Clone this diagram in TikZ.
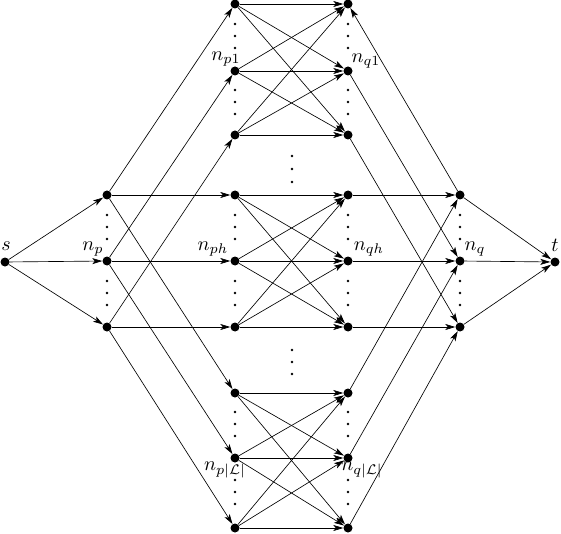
\documentclass[tikz,border=0pt]{standalone}
\usetikzlibrary{arrows.meta}
\newcommand{\mylbl}[1]{\scalebox{2}{#1}}
\begin{document}
\begin{tikzpicture}[x=1pt,y=-1pt,
  dot/.style={circle,fill=black,inner sep=0pt,minimum size=9pt},
  arr/.style={-{Stealth[length=10pt,width=6pt,inset=2.5pt]},line width=0.65pt},
  lbl/.style={inner sep=0pt}]
\useasboundingbox (0,0) rectangle (561,534);

% main nodes
\node[dot] (s) at (5,262) {};
\node[dot] (t) at (555,262) {};
\foreach \i/\y in {1/195,2/261,3/327} {
  \node[dot] (np\i) at (107,\y) {};
  \node[dot] (nq\i) at (460,\y) {};
}
\foreach \g/\ya/\yb/\yc in {A/4/71/135, B/195/261/327, C/393/458/528} {
  \node[dot] (p\g1) at (235,\ya) {};
  \node[dot] (p\g2) at (235,\yb) {};
  \node[dot] (p\g3) at (235,\yc) {};
  \node[dot] (q\g1) at (348,\ya) {};
  \node[dot] (q\g2) at (348,\yb) {};
  \node[dot] (q\g3) at (348,\yc) {};
}

% edges
\foreach \i in {1,2,3} {
  \draw[arr] (s) -- (np\i);
  \draw[arr] (nq\i) -- (t);
  \draw[arr] (np\i) -- (pA\i);
  \draw[arr] (np\i) -- (pB\i);
  \draw[arr] (np\i) -- (pC\i);
  \draw[arr] (qB\i) -- (nq\i);
  \draw[arr] (qC\i) -- (nq\i);
}
\draw[arr] (nq1) -- (qA1);
\draw[arr] (qA2) -- (nq2);
\draw[arr] (qA3) -- (nq3);
\foreach \g in {A,B,C} {
  \foreach \i in {1,2,3} {
    \foreach \j in {1,2,3} {
      \draw[arr] (p\g\i) -- (q\g\j);
    }
  }
}

% vertical ellipsis dots
\foreach \x in {107,460} {
  \foreach \m in {227,293} {
    \foreach \d in {-12,0,12} { \fill (\x,\m+\d) circle (1.3pt); }
  }
}
\foreach \x in {235,348} {
  \foreach \m in {36,102,227,293,424,492} {
    \foreach \d in {-12,0,12} { \fill (\x,\m+\d) circle (1.3pt); }
  }
}
\foreach \y in {156,169,182,350,362,374} { \fill (292,\y) circle (1.3pt); }

% labels
\node[lbl] (ls) at (6,246) {\mylbl{$s$}};
\node[lbl] (lt) at (555,245) {\mylbl{$t$}};
\node[lbl] (lnp) at (93,249) {\mylbl{$n_p$}};
\node[lbl] (lnq) at (475,249) {\mylbl{$n_q$}};
\node[lbl] (lp1) at (226,59) {\mylbl{$n_{p1}$}};
\node[lbl] (lq1) at (366,61) {\mylbl{$n_{q1}$}};
\node[lbl] (lph) at (213,249) {\mylbl{$n_{ph}$}};
\node[lbl] (lqh) at (369,249) {\mylbl{$n_{qh}$}};
\node[lbl] (lpL) at (225,470) {\mylbl{$n_{p|\mathcal{L}|}$}};
\node[lbl] (lqL) at (362,470) {\mylbl{$n_{q|\mathcal{L}|}$}};
\end{tikzpicture}
\end{document}
